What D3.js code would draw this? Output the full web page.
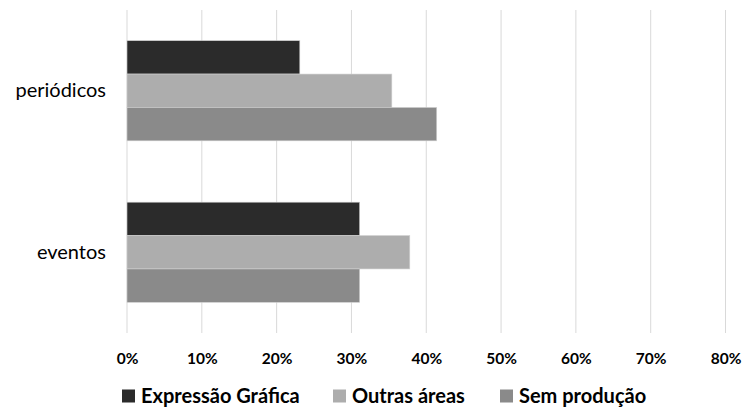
<!DOCTYPE html>
<html>
<head>
<meta charset="utf-8">
<script src="https://cdn.jsdelivr.net/npm/d3@7"></script>
<style>
  html, body { margin: 0; padding: 0; background: #fff; }
  svg { display: block; }
  text { font-family: Lato, "Open Sans", sans-serif; fill: #000; }
</style>
</head>
<body>
<svg id="chart" width="742" height="407"></svg>
<script>
// Categories (top to bottom) and series
const categories = ["periódicos", "eventos"];
const seriesNames = ["Expressão Gráfica", "Outras áreas", "Sem produção"];
const expressaoGrafica = [0.231, 0.311];
const outrasAreas = [0.354, 0.378];
const semProducao = [0.414, 0.311];
const tickValues = [0, 0.1, 0.2, 0.3, 0.4, 0.5, 0.6, 0.7, 0.8];
const colors = ["#2b2b2b", "#adadad", "#8a8a8a"];

const seriesValues = [expressaoGrafica, outrasAreas, semProducao];

const svg = d3.select("#chart");
const margin = { top: 10, right: 16, bottom: 74, left: 127 };
const width = 742 - margin.left - margin.right;
const height = 407 - margin.top - margin.bottom;

const g = svg.append("g").attr("transform", `translate(${margin.left},${margin.top})`);

const x = d3.scaleLinear().domain([0, 0.8]).range([0, 598.5]);
const y0 = d3.scaleBand().domain(categories).range([0, height]).paddingInner(0.38).paddingOuter(0.19);
const y1 = d3.scaleBand().domain(seriesNames).range([0, y0.bandwidth()]);

// Vertical gridlines
g.append("g")
  .selectAll("line")
  .data(tickValues)
  .join("line")
  .attr("x1", d => x(d)).attr("x2", d => x(d))
  .attr("y1", 0).attr("y2", height)
  .attr("stroke", "#d9d9d9")
  .attr("stroke-width", 1);

// Bars
const groups = g.append("g")
  .selectAll("g")
  .data(categories)
  .join("g")
  .attr("transform", d => `translate(0,${y0(d)})`);

groups.selectAll("rect")
  .data((c, i) => seriesNames.map((s, j) => ({ s, v: seriesValues[j][i], j })))
  .join("rect")
  .attr("x", x(0))
  .attr("y", d => y1(d.s))
  .attr("width", d => x(d.v) - x(0))
  .attr("height", y1.bandwidth())
  .attr("fill", d => colors[d.j])
  .attr("stroke", "#d0d0d0")
  .attr("stroke-width", 0.6);

// Category axis
const yAxis = g.append("g")
  .call(d3.axisLeft(y0).tickSize(0).tickPadding(21));
yAxis.select(".domain").remove();
yAxis.selectAll("text")
  .style("font-size", "20px")
  .style("font-family", "Lato, 'Open Sans', sans-serif");

// Percentage axis
const xAxis = g.append("g")
  .attr("transform", `translate(0,${height})`)
  .call(d3.axisBottom(x).tickValues(tickValues).tickFormat(d3.format(".0%")).tickSize(0).tickPadding(20));
xAxis.select(".domain").remove();
xAxis.selectAll("text")
  .style("font-size", "15.5px")
  .style("font-weight", "bold")
  .style("font-family", "Lato, 'Open Sans', sans-serif");

// Legend
const legendX = [122, 333, 500];
const legend = svg.append("g").attr("transform", "translate(0,396)");
const items = legend.selectAll("g")
  .data(seriesNames)
  .join("g")
  .attr("transform", (d, i) => `translate(${legendX[i]},0)`);
items.append("rect")
  .attr("x", 0).attr("y", -6.5)
  .attr("width", 13).attr("height", 13)
  .attr("fill", (d, i) => colors[i]);
items.append("text")
  .attr("x", 19)
  .attr("dy", "0.35em")
  .style("font-size", "20px")
  .style("font-weight", "bold")
  .text(d => d);
</script>
</body>
</html>
